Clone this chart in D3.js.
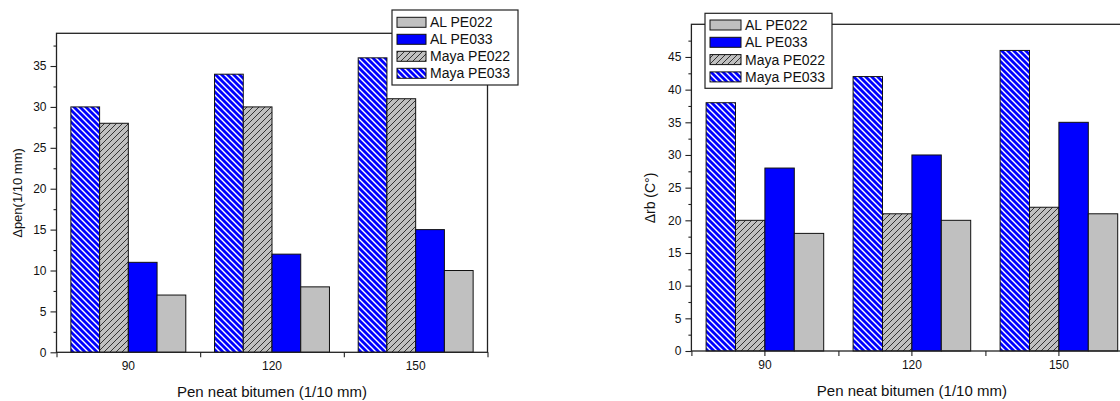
<!doctype html>
<html>
<head>
<meta charset="utf-8" />
<script src="https://cdn.jsdelivr.net/npm/d3@7"></script>
<style>
  body { margin: 0; background: #fff; }
  svg text { font-family: "Liberation Sans", Arial, sans-serif; fill: #111; }
</style>
</head>
<body>
<svg id="chart" width="1120" height="401"></svg>
<script>
// categories and series (bar order inside each group)
var categories = ["90", "120", "150"];
var seriesOrder = ["Maya PE033", "Maya PE022", "AL PE033", "AL PE022"];
var legendOrder = ["AL PE022", "AL PE033", "Maya PE022", "Maya PE033"];

// left panel: delta penetration
var penMayaPE033 = [30, 34, 36];
var penMayaPE022 = [28, 30, 31];
var penALPE033 = [11, 12, 15];
var penALPE022 = [7, 8, 10];

// right panel: delta ring & ball
var rbMayaPE033 = [38, 42, 46];
var rbMayaPE022 = [20, 21, 22];
var rbALPE033 = [28, 30, 35];
var rbALPE022 = [18, 20, 21];

var yTicksPen = [0, 5, 10, 15, 20, 25, 30, 35];
var yTicksRb = [0, 5, 10, 15, 20, 25, 30, 35, 40, 45];

var svg = d3.select("#chart");
var defs = svg.append("defs");

// blue with white "\" stripes
var pb = defs.append("pattern").attr("id", "hatchBlue")
  .attr("patternUnits", "userSpaceOnUse").attr("width", 6).attr("height", 6);
pb.append("rect").attr("width", 6).attr("height", 6).attr("fill", "#0000ff");
pb.append("path").attr("d", "M0,0L6,6M-1,5L1,7M5,-1L7,1")
  .attr("stroke", "#fff").attr("stroke-width", 1.4);

// grey with black "/" stripes
var pg = defs.append("pattern").attr("id", "hatchGrey")
  .attr("patternUnits", "userSpaceOnUse").attr("width", 6).attr("height", 6);
pg.append("rect").attr("width", 6).attr("height", 6).attr("fill", "#c0c0c0");
pg.append("path").attr("d", "M0,6L6,0M-1,1L1,-1M5,7L7,5")
  .attr("stroke", "#222").attr("stroke-width", 0.9);

var fills = {
  "AL PE022": "#c0c0c0",
  "AL PE033": "#0000ff",
  "Maya PE022": "url(#hatchGrey)",
  "Maya PE033": "url(#hatchBlue)"
};

function drawChart(o) {
  var g = svg.append("g");
  var x0 = d3.scaleBand().domain(categories).range([o.left, o.right]).padding(0);
  var bw = x0.bandwidth();
  var x1 = d3.scaleBand().domain(seriesOrder).range([bw * 0.1, bw * 0.9]).padding(0);
  var y = d3.scaleLinear().domain([0, o.ymax]).range([o.bottom, o.top]);

  // bars
  categories.forEach(function (c, i) {
    seriesOrder.forEach(function (s) {
      var v = o.data[s][i];
      g.append("rect")
        .attr("x", x0(c) + x1(s))
        .attr("y", y(v))
        .attr("width", x1.bandwidth())
        .attr("height", y(0) - y(v))
        .attr("fill", fills[s])
        .attr("stroke", "#111")
        .attr("stroke-width", 1);
    });
  });

  // frame
  g.append("rect")
    .attr("x", o.left).attr("y", o.top)
    .attr("width", o.right - o.left).attr("height", o.bottom - o.top)
    .attr("fill", "none").attr("stroke", "#222").attr("stroke-width", 1.3);

  // y axis major + minor
  var yAxis = d3.axisLeft(y).tickValues(o.yTicks).tickSize(6).tickPadding(4);
  g.append("g").attr("transform", "translate(" + o.left + ",0)").call(yAxis);
  var minor = d3.range(2.5, o.ymax, 5);
  g.append("g").attr("transform", "translate(" + o.left + ",0)")
    .call(d3.axisLeft(y).tickValues(minor).tickSize(3).tickFormat(""));

  // x axis: labels at centers, ticks on band boundaries
  g.append("g").attr("transform", "translate(0," + o.bottom + ")")
    .call(d3.axisBottom(x0).tickSize(o.centerTicks ? 5 : 0).tickPadding(o.centerTicks ? 4 : 9));
  var xb = d3.scaleLinear().domain([0, categories.length]).range([o.left, o.right]);
  g.append("g").attr("transform", "translate(0," + o.bottom + ")")
    .call(d3.axisBottom(xb).tickValues(d3.range(0, categories.length + 1)).tickSize(5).tickFormat(""));

  g.selectAll(".domain").remove();
  g.selectAll(".tick line").attr("stroke", "#222").attr("stroke-width", 1.1);
  g.selectAll(".tick text").attr("font-size", 12).attr("fill", "#111");

  // axis titles
  g.append("text")
    .attr("transform", "translate(" + o.yTitleX + "," + o.yTitleY + ") rotate(-90)")
    .attr("text-anchor", "middle").attr("dy", "0.35em")
    .attr("font-size", o.yTitleSize).text(o.yTitle);
  g.append("text")
    .attr("x", x0(categories[1]) + bw / 2)
    .attr("y", o.xTitleY)
    .attr("text-anchor", "middle").attr("dy", "0.35em")
    .attr("font-size", 15).text("Pen neat bitumen (1/10 mm)");

  // legend
  var L = o.legend;
  var lg = g.append("g");
  lg.append("rect").attr("x", L.x).attr("y", L.y).attr("width", L.w).attr("height", L.h)
    .attr("fill", "#fff").attr("stroke", "#222").attr("stroke-width", 1.2);
  legendOrder.forEach(function (s, i) {
    var cy = L.y + L.first + i * L.step;
    lg.append("rect").attr("x", L.x + 5).attr("y", cy - 5)
      .attr("width", L.sw).attr("height", 10)
      .attr("fill", fills[s]).attr("stroke", "#111").attr("stroke-width", 1);
    lg.append("text").attr("x", L.x + L.sw + 9).attr("y", cy).attr("dy", "0.36em")
      .attr("font-size", 14).text(s);
  });
}

drawChart({
  left: 56.5, right: 487.5, top: 33.3, bottom: 352.3, ymax: 39,
  yTicks: yTicksPen, centerTicks: false,
  data: {
    "Maya PE033": penMayaPE033, "Maya PE022": penMayaPE022,
    "AL PE033": penALPE033, "AL PE022": penALPE022
  },
  yTitle: "\u0394pen(1/10 mm)", yTitleX: 17, yTitleY: 193, yTitleSize: 13,
  xTitleY: 392,
  legend: { x: 392, y: 10, w: 126, h: 75, first: 12.3, step: 17, sw: 29 }
});

drawChart({
  left: 691.4, right: 1132.4, top: 24.3, bottom: 351, ymax: 50,
  yTicks: yTicksRb, centerTicks: true,
  data: {
    "Maya PE033": rbMayaPE033, "Maya PE022": rbMayaPE022,
    "AL PE033": rbALPE033, "AL PE022": rbALPE022
  },
  yTitle: "\u0394rb (C\u00b0)", yTitleX: 650, yTitleY: 198, yTitleSize: 14,
  xTitleY: 391,
  legend: { x: 705, y: 13.3, w: 127, h: 75, first: 11.7, step: 17.3, sw: 31 }
});
</script>
</body>
</html>
